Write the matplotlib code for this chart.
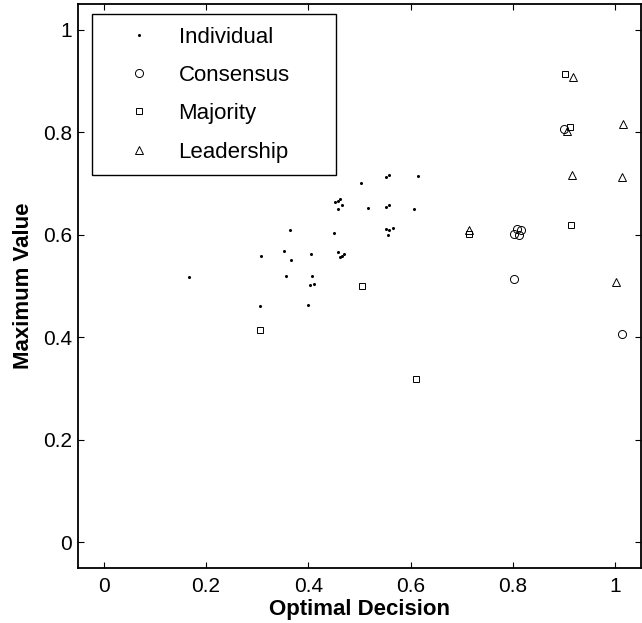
import matplotlib
matplotlib.use("Agg")
import matplotlib.pyplot as plt

plt.rcParams['font.family'] = ['Liberation Sans', 'DejaVu Sans']

# Individual decisions
ind_x = [0.452, 0.457, 0.462, 0.465, 0.457,
         0.364, 0.451, 0.352, 0.307, 0.406, 0.366,
         0.457, 0.462, 0.466, 0.470,
         0.166, 0.356, 0.408, 0.403, 0.412,
         0.306, 0.400,
         0.552, 0.557, 0.614, 0.503, 0.517, 0.552, 0.557, 0.607,
         0.552, 0.557, 0.565, 0.556]
ind_y = [0.663, 0.665, 0.669, 0.658, 0.651,
         0.610, 0.604, 0.569, 0.558, 0.562, 0.550,
         0.567, 0.557, 0.558, 0.562,
         0.517, 0.519, 0.519, 0.501, 0.504,
         0.460, 0.462,
         0.713, 0.716, 0.714, 0.701, 0.653, 0.655, 0.658, 0.650,
         0.611, 0.610, 0.614, 0.600]

# group decisions
con_x = [0.899, 0.802, 0.807, 0.816, 0.811, 0.802, 1.013]
con_y = [0.807, 0.602, 0.611, 0.609, 0.600, 0.514, 0.407]

maj_x = [0.901, 0.911, 0.714, 0.914, 0.505, 0.610, 0.306]
maj_y = [0.914, 0.811, 0.602, 0.619, 0.500, 0.318, 0.415]

lead_x = [0.918, 0.905, 1.015, 0.915, 1.013, 0.714, 1.001]
lead_y = [0.908, 0.802, 0.815, 0.717, 0.713, 0.609, 0.508]

ticks = [0, 0.2, 0.4, 0.6, 0.8, 1]
tick_labels = ['0', '0.2', '0.4', '0.6', '0.8', '1']

fig = plt.figure(figsize=(6.42, 6.23), dpi=100)
ax = fig.add_axes([0.1215, 0.0883, 0.877, 0.9053])

ax.plot(ind_x, ind_y, 'o', color='black', ms=2.2, mew=0, label='Individual')
ax.plot(con_x, con_y, 'o', mfc='none', mec='black', ms=5.8, mew=0.7, label='Consensus')
ax.plot(maj_x, maj_y, 's', mfc='none', mec='black', ms=4.3, mew=0.7, label='Majority')
ax.plot(lead_x, lead_y, '^', mfc='none', mec='black', ms=5.8, mew=0.7, label='Leadership')

ax.set_xlim(-0.05, 1.05)
ax.set_ylim(-0.05, 1.05)
ax.set_xticks(ticks)
ax.set_xticklabels(tick_labels)
ax.set_yticks(ticks)
ax.set_yticklabels(tick_labels)
ax.tick_params(direction='in', top=True, right=True, length=4, width=0.8,
               labelsize=15, pad=4.5)
ax.tick_params(axis='x', pad=6.5)
for s in ax.spines.values():
    s.set_linewidth(1.3)

ax.set_xlabel('Optimal Decision', fontsize=16, fontweight='bold', labelpad=2.5)
ax.set_ylabel('Maximum Value', fontsize=16, fontweight='bold', labelpad=6)

# matlab-style legend box, wider than its text
leg = ax.legend(loc='upper left', bbox_to_anchor=(0.025, 0.0, 0.433, 0.982),
                mode='expand', fontsize=16,
                frameon=True, fancybox=False, edgecolor='black', framealpha=1,
                handlelength=3.06, handletextpad=0.27, labelspacing=0.78,
                borderpad=0.56, borderaxespad=0)
leg.get_frame().set_linewidth(1.0)

fig.savefig('out.png', dpi=100)
